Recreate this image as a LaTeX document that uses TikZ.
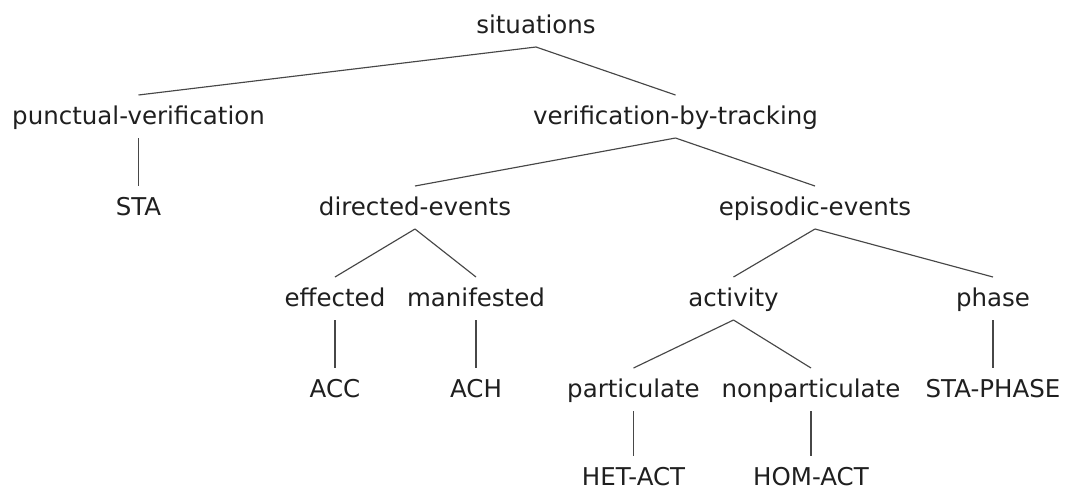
\documentclass[tikz,border=0pt]{standalone}
\usepackage{fontspec}
\setmainfont{DejaVu Sans}
\begin{document}
\begin{tikzpicture}[x=1pt,y=-1pt,
  label/.style={anchor=base,inner sep=0pt,outer sep=0pt,
    font=\fontsize{24.5}{29}\selectfont,text=black!88,
    text height=29pt,text depth=14pt},
  leaf/.style={label,text depth=0pt},
  edge/.style={draw=black!72,line width=1.15pt}]
\useasboundingbox (0,0) rectangle (1068,491);
% level 0
\node[label] (sit) at (536,33) {situations};
% level 1
\node[label] (pv)  at (138.5,124) {punctual-verification};
\node[label] (vbt) at (675.5,124) {verification-by-tracking};
% level 2
\node[label] (sta) at (138.5,215) {STA};
\node[label] (de)  at (415,215) {directed-events};
\node[label] (ee)  at (815,215) {episodic-events};
% level 3
\node[label] (eff) at (335,306) {effected};
\node[label] (man) at (476,306) {manifested};
\node[label] (act) at (733.5,306) {activity};
\node[label] (pha) at (993,306) {phase};
% level 4
\node[label] (acc) at (335,397) {ACC};
\node[label] (ach) at (476,397) {ACH};
\node[label] (par) at (633.5,397) {particulate};
\node[label] (npa) at (811,397) {nonparticulate};
\node[label] (stp) at (993,397) {STA-PHASE};
% level 5
\node[leaf] (het) at (633.5,485) {HET-ACT};
\node[leaf] (hom) at (811,485) {HOM-ACT};
% branches
\foreach \p/\c in {sit/pv,sit/vbt,pv/sta,vbt/de,vbt/ee,de/eff,de/man,
                   ee/act,ee/pha,eff/acc,man/ach,act/par,act/npa,
                   pha/stp,par/het,npa/hom}
  \draw[edge] (\p.south) -- (\c.north);
\end{tikzpicture}
\end{document}
